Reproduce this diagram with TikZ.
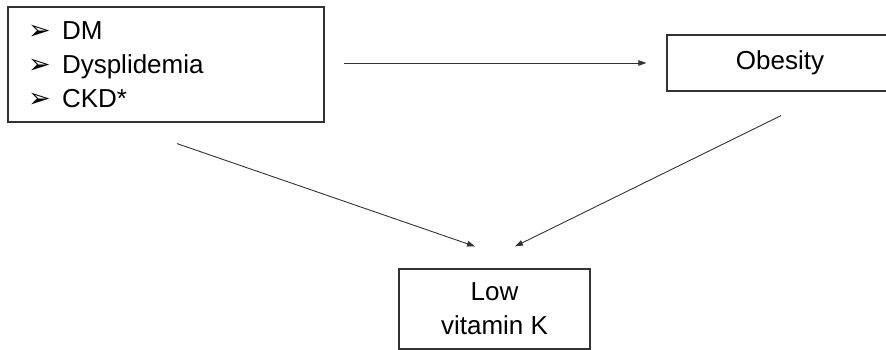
\documentclass[tikz,border=0pt]{standalone}
\usepackage{fontspec}
\setmainfont{Liberation Sans}
\newfontfamily\symfont{DejaVu Sans}
\usetikzlibrary{positioning, arrows.meta, calc}
\newcommand{\bul}{\makebox[34pt][l]{\symfont\fontsize{27}{34}\selectfont ➢}}

\begin{document}
\begin{tikzpicture}[
  x=1pt, y=-1pt,
  factor/.style={rectangle, draw=black!80, line width=1.2pt, align=center,
    font=\fontsize{26}{34}\selectfont, inner sep=0pt},
  link/.style={-{Triangle[length=8pt, width=5.5pt]}, line width=0.9pt, draw=black!80}
]
  \clip (0,0) rectangle (886,350);

  \node[factor, minimum width=316pt, minimum height=115pt,
    text width=276pt, align=left] (risk) at (166,64.5)
    {\bul DM\\ \bul Dysplidemia\\ \bul CKD*};
  \node[factor, minimum width=226pt, minimum height=56pt] (obesity) at (780,63) {Obesity};
  \node[factor, minimum width=191pt, minimum height=80pt] (lowk) at (494.5,309)
    {Low\\ vitamin K};

  \coordinate (riskout) at ($(risk.south)+(11,21)$);
  \coordinate (obout) at ($(obesity.south)+(1,24)$);
  \coordinate (lowinl) at ($(lowk.north)+(-19.5,-22)$);
  \coordinate (lowinr) at ($(lowk.north)+(20.5,-22)$);

  \draw[link, shorten <=19pt, shorten >=20pt] (risk.east |- obesity) -- (obesity.west);
  \draw[link] (riskout) -- (lowinl);
  \draw[link] (obout) -- (lowinr);
\end{tikzpicture}
\end{document}
